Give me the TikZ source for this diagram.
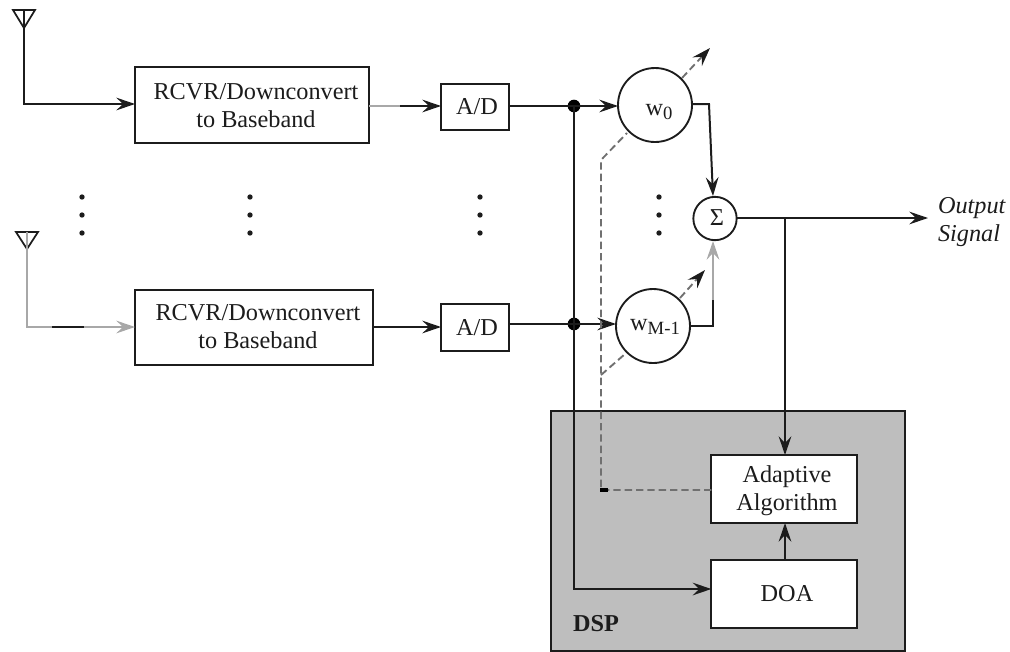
\documentclass[tikz,border=0pt]{standalone}
\usepackage{fontspec}
\setmainfont{Liberation Serif}
\usetikzlibrary{arrows.meta,calc}
\definecolor{ink}{HTML}{1C1C1C}
\definecolor{dashgray}{HTML}{707070}
\definecolor{softgray}{HTML}{A8A8A8}
\definecolor{dspgray}{HTML}{BEBEBE}
\tikzset{
  x=0.75pt,y=-0.75pt,
  every node/.style={font=\fontsize{18.2pt}{20.8pt}\selectfont,text=ink,inner sep=0pt,outer sep=0pt},
  line/.style={draw=ink,line width=1.5pt,line join=miter},
  softline/.style={draw=softgray,line width=1.6pt},
  tip/.style={-{Stealth[length=14pt,width=9.5pt,inset=5pt]}},
  ctl/.style={draw=dashgray,line width=1.4pt,dash pattern=on 5.5pt off 3pt},
  blockbox/.style={draw=ink,line width=1.4pt,fill=white,anchor=center},
  blocktext/.style={align=center,anchor=center},
  weight/.style={circle,draw=ink,line width=1.4pt,fill=white,minimum size=55.5pt},
  junction/.style={circle,fill=black,minimum size=9.5pt},
  dotmark/.style={circle,fill=ink,minimum size=4pt},
  ant/.style={draw=ink,line width=1.3pt,line join=miter},
}
\begin{document}
\begin{tikzpicture}
\useasboundingbox (0,0) rectangle (1010,651);
% DSP panel
\node[draw=ink,line width=1.3pt,fill=dspgray,minimum width=265.5pt,minimum height=180pt] (dsp) at (728,531) {};
\node[font=\fontsize{18.2pt}{21pt}\selectfont\bfseries] (dsplabel) at (596,624) {DSP};

% blocks
\node[blockbox,minimum width=175.5pt,minimum height=56.5pt] (rx1) at (252,105) {};
\node[blocktext] (rx1t) at (256,105.5) {RCVR/Downconvert\\to Baseband};
\node[blockbox,minimum width=178.5pt,minimum height=56.5pt] (rx2) at (254,327.5) {};
\node[blocktext] (rx2t) at (258,326.5) {RCVR/Downconvert\\to Baseband};
\node[blockbox,minimum width=51pt,minimum height=34.5pt] (ad1) at (475,107) {};
\node[blocktext] (ad1t) at (477,107) {A/D};
\node[blockbox,minimum width=51pt,minimum height=35pt] (ad2) at (475,327.5) {};
\node[blocktext] (ad2t) at (477,328) {A/D};
\node[blockbox,minimum width=109pt,minimum height=51pt] (alg) at (784,489) {};
\node[blocktext] (algt) at (787,491) {Adaptive\\Algorithm};
\node[blockbox,minimum width=109pt,minimum height=51pt] (doa) at (784,594) {};
\node[blocktext] (doat) at (787,594) {DOA};

% weights and summer
\node[weight] (w0) at (655,105) {};
\node (w0t) at (659,112) {w\raisebox{-3pt}{\fontsize{14pt}{14pt}\selectfont 0}};
\node[weight] (w1) at (653,326) {};
\node (w1t) at (655,327) {w\raisebox{-3pt}{\fontsize{14pt}{14pt}\selectfont M-1}};
\node[circle,draw=ink,line width=1.4pt,fill=white,minimum size=32.5pt] (sum) at (715,218.5) {};
\node (sumt) at (717,218) {Σ};

% antennas
\coordinate (a1) at (24,10);
\coordinate (a1l) at (13,10);
\coordinate (a1r) at (35,10);
\coordinate (a1t) at (24,28);
\coordinate (a1c) at (24,104);
\draw[ant] (a1l) -- (a1r) -- (a1t) -- cycle;
\draw[line,tip] (a1) -- (a1c) -- (rx1.west |- a1c);

\coordinate (a2) at (27,232);
\coordinate (a2l) at (16,232);
\coordinate (a2r) at (38,232);
\coordinate (a2t) at (27,249);
\coordinate (a2c) at (27,327);
\coordinate (a2m) at (52,327);
\coordinate (a2n) at (84,327);
\draw[ant] (a2l) -- (a2r) -- (a2t) -- cycle;
\draw[softline] (a2) -- (a2c) -- (a2m);
\draw[line] (a2m) -- (a2n);
\draw[softline,tip] (a2n) -- (rx2.west |- a2c);

% receiver to converter
\coordinate (rx1m) at (400,106);
\coordinate (rx2m) at (400,327);
\draw[softline] (rx1.east |- rx1m) -- (rx1m);
\draw[line,tip] (rx1m) -- (ad1.west |- rx1m);
\draw[line,tip] (rx2.east |- rx2m) -- (ad2.west |- rx2m);

% converter to weights
\node[junction] (j1) at (574,106) {};
\node[junction] (j2) at (574,324) {};
\draw[line,tip] (ad1.east |- j1) -- (w0.west |- j1);
\draw[line,tip] (ad2.east |- j2) -- (w1.west |- j2);
\coordinate (doain) at (574,589);
\draw[line,tip] (j1.center) -- (doain) -- (doa.west |- doain);

% weights to sum
\coordinate (w0o) at (709,104);
\coordinate (w1o) at (713,326);
\coordinate (w1m) at (713,300);
\coordinate (sumin) at (713,196);
\coordinate (sumlow) at (713,241);
\draw[line,tip] (w0.east |- w0o) -- (w0o) -- (sumin);
\draw[line] (w1.east |- w1o) -- (w1o) -- (w1m);
\draw[softline,tip] (w1m) -- (sumlow);

% sum output
\node[anchor=west,align=left,font=\fontsize{18.2pt}{20.5pt}\selectfont\itshape] (out) at (938,222) {Output\\Signal};
\coordinate (outend) at (928,218);
\draw[line,tip] (sum.east |- outend) -- (outend);
\coordinate (tap) at (785,218);
\draw[line,tip] (tap) -- (alg.north -| tap);
\draw[line,tip] (doa.north -| tap) -- (alg.south -| tap);

% weight control
\coordinate (c0) at (601,490);
\coordinate (c1) at (601,160);
\coordinate (c2) at (601,375);
\coordinate (w0in) at ($(w0)+(-28,28)$);
\coordinate (w1in) at ($(w1)+(-28,28)$);
\draw[ctl] (alg.west |- c0) -- (c0) -- (c1) -- (w0in);
\draw[ctl] (c2) -- (w1in);
\fill[black] (600,487.5) rectangle (608,492);
\coordinate (w0s) at ($(w0)+(27,-27)$);
\coordinate (w1s) at ($(w1)+(27,-28)$);
\coordinate (w0e) at (710,48);
\coordinate (w1e) at (705,270);
\draw[ctl,-{Stealth[length=14pt,width=9.5pt,inset=5pt,color=ink]}] (w0s) -- (w0e);
\draw[ctl,-{Stealth[length=14pt,width=9.5pt,inset=5pt,color=ink]}] (w1s) -- (w1e);

% ellipsis dots
\foreach \c/\px in {a/82,b/250,c/480,d/659}{
  \foreach \r/\py in {u/197,m/215,l/233}{
    \node[dotmark] (dot\c\r) at (\px,\py) {};
  }
}
\end{tikzpicture}
\end{document}
